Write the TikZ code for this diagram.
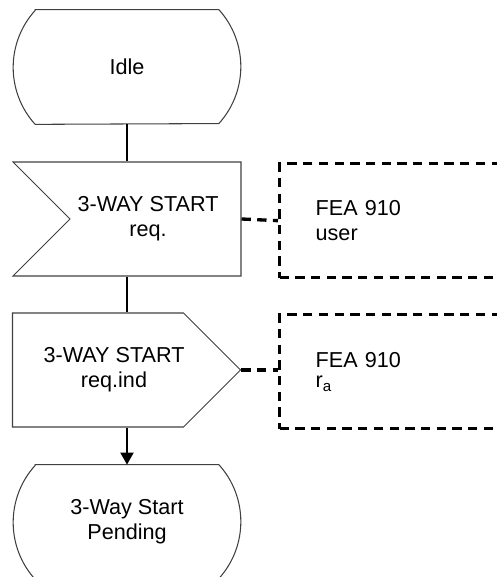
\documentclass[tikz,border=0pt]{standalone}
\usepackage{fontspec}
\setmainfont{Liberation Sans}
\usetikzlibrary{shapes.symbols,arrows.meta}

\tikzset{
  outline/.style={draw=black!75,line width=0.6pt},
  state/.style={minimum width=4.54cm,minimum height=2.28cm,align=center,inner sep=0pt},
  sigbox/.style={outline,signal,signal pointer angle=90,minimum width=4.56cm,minimum height=2.28cm,inner sep=0pt},
  sigtext/.style={align=center,inner sep=0pt},
  remark/.style={draw,line width=1.9pt,dash pattern=on 0.186cm off 0.128cm,anchor=north west,
    minimum height=2.28cm,text width=3.4cm,inner xsep=0.72cm,align=left},
  flow/.style={line width=1.1pt},
  link/.style={line width=1.9pt,dash pattern=on 0.186cm off 0.128cm}
}

\begin{document}
\begin{tikzpicture}[font=\fontsize{12.3}{14.2}\selectfont]
            \useasboundingbox (0,0) rectangle (9.94,11.54);
            \clip (0,0) rectangle (9.94,11.54);

            \node[state] (idle) at (2.54,10.2) {Idle};
            \node[sigbox,signal from=west,signal to=nowhere] (startreq) at (3.11,7.16) {};
            \node[sigbox,signal to=east] (startind) at (1.96,4.14) {};
            \node[state] (pending) at (2.54,1.1) {3-Way Start\\Pending};

            \node[sigtext] (reqtxt) at ([xshift=-0.15cm]startreq.center) {3-WAY START\\req.};
            \node[sigtext] (indtxt) at ([xshift=0.32cm]startind.center) {3-WAY START\\req.ind};

            % state outlines
            \foreach \s in {idle,pending}
                \draw[outline] ([xshift=0.44cm]\s.north west) -- ([xshift=-0.44cm]\s.north east)
                    arc[start angle=42.2,end angle=-42.2,radius=1.696]
                    -- ([xshift=0.44cm]\s.south west)
                    arc[start angle=222.2,end angle=137.8,radius=1.696] -- cycle;

            \node[remark] (user) at (5.56,8.30) {FEA 910\\user};
            \node[remark] (ra) at (5.56,5.28) {FEA 910\\[-2.4pt]r\textsubscript{a}};

            \draw[flow] (idle.south) -- (idle.south |- startreq.north);
            \draw[flow] (idle.south |- startreq.south) -- (idle.south |- startind.north);
            \draw[flow,-{Triangle[width=0.26cm,length=0.24cm]}] (idle.south |- startind.south) -- (pending.north);

            \draw[link] (startreq.east) -- (user.west);
            \draw[link] (startind.east) -- (startind.east -| ra.west);
\end{tikzpicture}
\end{document}
